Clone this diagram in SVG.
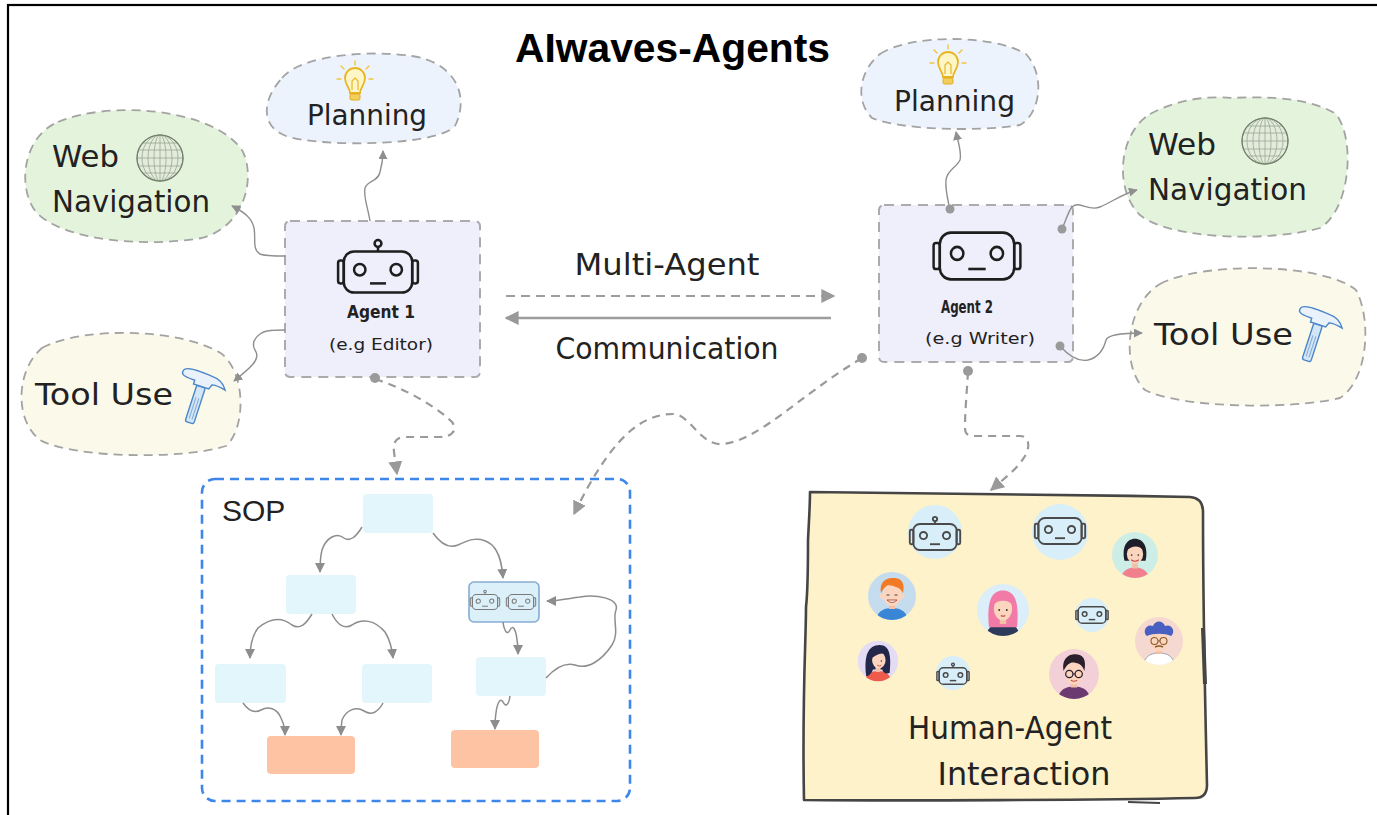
<svg xmlns="http://www.w3.org/2000/svg" xmlns:xlink="http://www.w3.org/1999/xlink" width="1377" height="815" viewBox="0 0 1377 815">
  <style>
    .hand { font-family: "DejaVu Sans", "Liberation Sans", sans-serif; fill: #222; }
    .blob { stroke: #a3a3a3; stroke-width: 1.8; stroke-dasharray: 9 6; }
    .agent { fill: #efeefb; stroke: #ababab; stroke-width: 2; stroke-dasharray: 10 7; }
    .link { fill: none; stroke: #8f8f8f; stroke-width: 1.4; }
    .dlink { fill: none; stroke: #9a9a9a; stroke-width: 2.2; stroke-dasharray: 8 6; }
    .sop { fill: none; stroke: #8d8d8d; stroke-width: 1.5; }
    .dot { fill: #9a9a9a; }
    .step { fill: #e2f6fb; }
    .out { fill: #fdc3a3; }
    .skin { fill: #fcd5bf; }
  </style>
  <defs>
    <marker id="ah" viewBox="0 0 10 10" refX="9" refY="5" markerWidth="9" markerHeight="9" markerUnits="userSpaceOnUse" orient="auto">
      <path d="M0,0 L10,5 L0,10 Z" fill="#8f8f8f"/>
    </marker>
    <marker id="ahd" viewBox="0 0 10 10" refX="9" refY="5" markerWidth="14" markerHeight="14" markerUnits="userSpaceOnUse" orient="auto">
      <path d="M0,0 L10,5 L0,10 Z" fill="#9a9a9a"/>
    </marker>
    <marker id="ahs" viewBox="0 0 10 10" refX="9" refY="5" markerWidth="10" markerHeight="10" markerUnits="userSpaceOnUse" orient="auto">
      <path d="M0,0 L10,5 L0,10 Z" fill="#8d8d8d"/>
    </marker>
    <marker id="ahm" viewBox="0 0 10 10" refX="9" refY="5" markerWidth="14" markerHeight="14" markerUnits="userSpaceOnUse" orient="auto">
      <path d="M0,0 L10,5 L0,10 Z" fill="#999"/>
    </marker>
    <clipPath id="avc"><circle r="24"/></clipPath>

    <!-- robot face outline, centred on 0,0 -->
    <g id="bot">
      <rect x="-30" y="-18" width="60" height="36" rx="9"/>
      <rect x="-35" y="-10" width="5" height="20" rx="2"/>
      <rect x="30" y="-10" width="5" height="20" rx="2"/>
      <circle cx="-16" cy="-2" r="5"/>
      <circle cx="16" cy="-2" r="5"/>
      <line x1="-7" y1="10" x2="7" y2="10"/>
    </g>
    <g id="antenna">
      <circle cx="0" cy="-25" r="3"/>
      <line x1="0" y1="-22" x2="0" y2="-18"/>
    </g>

    <!-- light bulb -->
    <g id="bulb">
      <path d="M-5,9 C-5,4 -10,1 -10,-6 A10,10 0 1 1 10,-6 C10,1 5,4 5,9 Z" fill="#fff6c8" stroke="#e8b625" stroke-width="1.8"/>
      <path d="M-3,6 L-3,-3 L0,-6 L3,-3 L3,6" fill="none" stroke="#e8b625" stroke-width="1.2"/>
      <rect x="-5" y="10" width="10" height="6" rx="1.5" fill="#f2cf5a" stroke="#e0a91e" stroke-width="1"/>
      <g stroke="#f0c640" stroke-width="1.4" stroke-linecap="round">
        <line x1="0" y1="-19" x2="0" y2="-23"/>
        <line x1="-11" y1="-15" x2="-14" y2="-18"/>
        <line x1="11" y1="-15" x2="14" y2="-18"/>
        <line x1="-14" y1="-5" x2="-18" y2="-5"/>
        <line x1="14" y1="-5" x2="18" y2="-5"/>
      </g>
    </g>

    <!-- wireframe globe -->
    <g id="globe">
      <circle r="23" fill="#e3ecdc" stroke="#7f8e77" stroke-width="1.2"/>
      <g fill="none" stroke="#98a68f" stroke-width="0.8">
        <ellipse rx="6" ry="23"/>
        <ellipse rx="12" ry="23"/>
        <ellipse rx="18" ry="23"/>
        <line x1="0" y1="-23" x2="0" y2="23"/>
        <line x1="-17.6" y1="-15" x2="17.6" y2="-15"/>
        <line x1="-21.5" y1="-8" x2="21.5" y2="-8"/>
        <line x1="-23" y1="0" x2="23" y2="0"/>
        <line x1="-21.5" y1="8" x2="21.5" y2="8"/>
        <line x1="-17.6" y1="15" x2="17.6" y2="15"/>
      </g>
      <circle r="23" fill="none" stroke="#6f7e68" stroke-width="1"/>
    </g>

    <!-- hammer -->
    <g id="hammer">
      <g transform="rotate(18)">
        <rect x="-4.5" y="-10" width="9" height="38" rx="2" fill="#d3e6f6" stroke="#4a86c8" stroke-width="1.4"/>
        <g stroke="#7fa9d6" stroke-width="1">
          <line x1="-1.5" y1="2" x2="-1.5" y2="24"/>
          <line x1="1.5" y1="2" x2="1.5" y2="24"/>
        </g>
        <path d="M-20,-22 C-16,-25 -4,-24 8,-23 C14,-23 20,-20 24,-14 C20,-15 15,-16 10,-15 L8,-10 L-8,-10 L-8,-14 C-14,-14 -19,-14 -21,-16 C-23,-18 -22,-21 -20,-22 Z" fill="#e9f2fb" stroke="#4a86c8" stroke-width="1.4"/>
      </g>
    </g>
  </defs>

  <rect width="1377" height="815" fill="#ffffff"/>
  <rect x="8" y="5" width="1390" height="830" fill="none" stroke="#000" stroke-width="2.2"/>

  <g id="title">
    <text x="515" y="62" font-family="Liberation Sans, Arial, sans-serif" font-weight="bold" font-size="40" textLength="315" lengthAdjust="spacingAndGlyphs" fill="#000">AIwaves-Agents</text>
  </g>

  <!-- capability bubbles around Agent 1 -->
  <g id="planning-1">
    <path class="blob" fill="#edf3fc" d="M282,78 C302,54 372,50 412,56 C452,62 470,92 456,124 C446,146 322,148 286,136 C260,126 262,100 282,78 Z"/>
    <use href="#bulb" transform="translate(355,84)"/>
    <text class="hand" x="307" y="125" font-size="28" textLength="120" lengthAdjust="spacingAndGlyphs">Planning</text>
  </g>
  <g id="webnav-1">
    <path class="blob" fill="#e4f4dc" d="M58,122 C110,100 212,108 242,150 C256,176 246,226 202,238 C142,248 62,240 36,212 C16,186 24,136 58,122 Z"/>
    <use href="#globe" transform="translate(160,158)"/>
    <text class="hand" x="52" y="167" font-size="30" textLength="67" lengthAdjust="spacingAndGlyphs">Web</text>
    <text class="hand" x="52" y="212" font-size="30" textLength="158" lengthAdjust="spacingAndGlyphs">Navigation</text>
  </g>
  <g id="tooluse-1">
    <path class="blob" fill="#fbf9ea" d="M42,348 C82,326 182,328 222,354 C246,374 246,428 226,446 C182,460 72,458 40,440 C14,420 16,370 42,348 Z"/>
    <text class="hand" x="35" y="405" font-size="30" textLength="138" lengthAdjust="spacingAndGlyphs">Tool  Use</text>
    <use href="#hammer" transform="translate(198,396)"/>
  </g>

  <!-- capability bubbles around Agent 2 -->
  <g id="planning-2">
    <path class="blob" fill="#edf3fc" d="M880,54 C910,34 992,34 1026,54 C1046,76 1040,114 1020,125 C980,132 900,130 872,118 C854,100 860,70 880,54 Z"/>
    <use href="#bulb" transform="translate(948,68)"/>
    <text class="hand" x="894" y="111" font-size="28" textLength="121" lengthAdjust="spacingAndGlyphs">Planning</text>
  </g>
  <g id="webnav-2">
    <path class="blob" fill="#e4f4dc" d="M1150,114 C1180,98 1210,96 1232,98 C1270,96 1310,98 1336,114 C1356,140 1350,210 1320,228 C1270,242 1170,240 1140,215 C1114,190 1118,134 1150,114 Z"/>
    <use href="#globe" transform="translate(1265,141)"/>
    <text class="hand" x="1148" y="155" font-size="30" textLength="68" lengthAdjust="spacingAndGlyphs">Web</text>
    <text class="hand" x="1148" y="200" font-size="30" textLength="159" lengthAdjust="spacingAndGlyphs">Navigation</text>
  </g>
  <g id="tooluse-2">
    <path class="blob" fill="#fbf9ea" d="M1160,284 C1200,262 1322,262 1356,290 C1372,320 1368,380 1340,398 C1290,410 1180,408 1145,390 C1120,366 1126,304 1160,284 Z"/>
    <text class="hand" x="1154" y="345" font-size="30" textLength="139" lengthAdjust="spacingAndGlyphs">Tool  Use</text>
    <use href="#hammer" transform="translate(1315,334)"/>
  </g>

  <!-- agents -->
  <g id="agent-1">
    <rect class="agent" x="285" y="221" width="195" height="156" rx="5"/>
    <g fill="none" stroke="#1e1e1e" stroke-width="2.2" transform="translate(378,272) scale(1.14)">
      <use href="#bot"/>
      <use href="#antenna"/>
    </g>
    <text class="hand" x="381" y="318" font-size="18" font-weight="bold" text-anchor="middle" textLength="68" lengthAdjust="spacingAndGlyphs" fill="#333">Agent 1</text>
    <text class="hand" x="381" y="350" font-size="16" text-anchor="middle" textLength="104" lengthAdjust="spacingAndGlyphs" fill="#444">(e.g Editor)</text>
  </g>
  <g id="agent-2">
    <rect class="agent" x="879" y="205" width="194" height="157" rx="5"/>
    <g fill="none" stroke="#1e1e1e" stroke-width="2" transform="translate(977,256) scale(1.24,1.3)">
      <use href="#bot"/>
    </g>
    <text class="hand" x="967" y="313" font-size="17" font-weight="bold" text-anchor="middle" textLength="52" lengthAdjust="spacingAndGlyphs" fill="#333">Agent 2</text>
    <text class="hand" x="980" y="344" font-size="15" text-anchor="middle" textLength="110" lengthAdjust="spacingAndGlyphs" fill="#444">(e.g Writer)</text>
  </g>

  <!-- communication between the agents -->
  <g id="communication">
    <text class="hand" x="667" y="275" font-size="30" text-anchor="middle" textLength="185" lengthAdjust="spacingAndGlyphs">Multi-Agent</text>
    <text class="hand" x="667" y="359" font-size="30" text-anchor="middle" textLength="223" lengthAdjust="spacingAndGlyphs">Communication</text>
  </g>

  <!-- SOP workflow -->
  <g id="sop">
    <rect x="202" y="479" width="428" height="322" rx="13" fill="none" stroke="#3e86ea" stroke-width="2.6" stroke-dasharray="9 6"/>
    <text x="222" y="521" font-family="Liberation Sans, Arial, sans-serif" font-size="30" fill="#222">SOP</text>
    <rect class="step" x="363" y="494" width="70" height="39" rx="4"/>
    <rect class="step" x="286" y="575" width="70" height="39" rx="4"/>
    <rect x="469" y="582" width="70" height="40" rx="5" fill="#dcf0fa" stroke="#86acd4" stroke-width="1.6"/>
    <g fill="none" stroke="#7a7a7a" stroke-width="2.4">
      <g transform="translate(485,602) scale(0.42)"><use href="#bot"/><use href="#antenna"/></g>
      <g transform="translate(521,602) scale(0.42)"><use href="#bot"/></g>
    </g>
    <rect class="step" x="215" y="664" width="71" height="39" rx="4"/>
    <rect class="step" x="362" y="664" width="70" height="39" rx="4"/>
    <rect class="step" x="476" y="657" width="70" height="39" rx="4"/>
    <rect class="out" x="267" y="736" width="88" height="38" rx="4"/>
    <rect class="out" x="451" y="730" width="88" height="38" rx="4"/>
    <g id="sop-links">
      <path class="sop" marker-end="url(#ahs)" d="M362,527 C356,537 350,542 344,538 C336,532 326,538 322,550 C320,558 320,565 320,572"/>
      <path class="sop" marker-end="url(#ahs)" d="M433,533 C440,543 448,549 458,545 C468,540 480,535 492,545 C500,553 502,565 503,578"/>
      <path class="sop" marker-end="url(#ahs)" d="M312,614 C306,624 300,630 292,625 C282,617 270,618 258,628 C252,636 250,645 250,658"/>
      <path class="sop" marker-end="url(#ahs)" d="M332,614 C337,624 344,630 352,625 C362,618 375,620 385,632 C390,640 392,648 393,658"/>
      <path class="sop" marker-end="url(#ahs)" d="M243,703 C248,710 254,714 261,710 C268,706 277,708 281,718 C284,724 285,729 285,735"/>
      <path class="sop" marker-end="url(#ahs)" d="M383,703 C378,712 372,716 364,711 C356,706 346,710 342,720 C341,726 341,730 341,735"/>
      <path class="sop" marker-end="url(#ahs)" d="M503,622 C504,630 507,636 510,630 C513,624 516,630 517,640 C518,645 518,649 518,654"/>
      <path class="sop" marker-end="url(#ahs)" d="M510,696 C509,704 506,708 503,702 C500,697 497,704 496,713 C495,719 495,724 495,729"/>
      <path class="sop" marker-end="url(#ahs)" d="M546,678 C555,668 565,662 575,665 C588,670 602,660 612,645 C620,632 612,620 616,610 C620,598 595,594 580,597 C566,599 556,601 547,601"/>
    </g>
  </g>

  <!-- human-agent interaction board -->
  <g id="human-agent">
    <path d="M810,492 C900,494 1050,494 1190,497 Q1203,498 1203,512 C1203,600 1205,700 1207,785 Q1207,798 1195,798 C1100,800 900,801 804,800 C802,700 806,640 806,607 C808,590 808,560 808,540 C809,520 810,505 810,492 Z" fill="#fdf2c9" stroke="#454545" stroke-width="2.6" stroke-linejoin="round"/>
    <path d="M1203,628 L1205,684" stroke="#454545" stroke-width="4" fill="none"/>
    <path d="M1128,802 L1160,803" stroke="#454545" stroke-width="2" fill="none"/>

    <!-- robot avatars -->
    <circle cx="935" cy="532" r="27" fill="#d8eef8"/>
    <g fill="none" stroke="#4a4a4a" stroke-width="2.6" transform="translate(935,537) scale(0.72)"><use href="#bot"/><use href="#antenna"/></g>
    <circle cx="1060" cy="532" r="28" fill="#d8eef8"/>
    <g fill="none" stroke="#4a4a4a" stroke-width="2.6" transform="translate(1060,531) scale(0.72)"><use href="#bot"/></g>
    <circle cx="1092" cy="615" r="17" fill="#d8eef8"/>
    <g fill="none" stroke="#4a4a4a" stroke-width="3.2" transform="translate(1092,615) scale(0.46)"><use href="#bot"/></g>
    <circle cx="953" cy="673" r="17" fill="#d8eef8"/>
    <g fill="none" stroke="#4a4a4a" stroke-width="3.2" transform="translate(953,676) scale(0.46)"><use href="#bot"/><use href="#antenna"/></g>

    <!-- woman, short black hair -->
    <g transform="translate(1135,555) scale(0.96)">
      <circle r="24" fill="#cdeee7"/>
      <g clip-path="url(#avc)">
        <path d="M-15,26 C-14,16 -7,13 0,13 C7,13 14,16 15,26 Z" fill="#f27f8c"/>
        <rect x="-3" y="5" width="6" height="9" fill="#f1c0a6"/>
        <path d="M-11,6 C-14,-8 -9,-17 0,-17 C9,-17 14,-8 11,6 Z" fill="#1f1f2b"/>
        <ellipse class="skin" cx="0" cy="-1" rx="8.5" ry="10"/>
        <path d="M-9,-4 C-9,-14 8,-15 10,-4 C5,-10 -3,-11 -9,-4 Z" fill="#1f1f2b"/>
        <path d="M-4,5 Q0,8 4,5" fill="none" stroke="#c0504d" stroke-width="1.2"/>
        <circle cx="-3.5" cy="0" r="0.9" fill="#333"/><circle cx="3.5" cy="0" r="0.9" fill="#333"/>
      </g>
    </g>
    <!-- boy, orange hair -->
    <g transform="translate(892,596)">
      <circle r="24" fill="#c5dcef"/>
      <g clip-path="url(#avc)">
        <path d="M-17,26 C-15,15 -8,12 0,12 C8,12 15,15 17,26 Z" fill="#3a86d6"/>
        <rect x="-3" y="5" width="6" height="8" fill="#f1c0a6"/>
        <circle cx="-10" cy="0" r="2.5" class="skin"/><circle cx="10" cy="0" r="2.5" class="skin"/>
        <ellipse class="skin" cx="0" cy="-1" rx="9.5" ry="11"/>
        <path d="M-11,-3 C-13,-14 -6,-19 2,-18 C10,-18 13,-12 11,-3 C8,-9 2,-10 -4,-11 C-7,-9 -9,-7 -11,-3 Z" fill="#f27a24"/>
        <path d="M-5,4 Q0,9 5,4 Z" fill="#fff" stroke="#b5533c" stroke-width="1"/>
        <line x1="-5.5" y1="-1" x2="-2.5" y2="-1" stroke="#444" stroke-width="1.2"/>
        <line x1="2.5" y1="-1" x2="5.5" y2="-1" stroke="#444" stroke-width="1.2"/>
      </g>
    </g>
    <!-- girl, pink hair -->
    <g transform="translate(1003,610) scale(1.08)">
      <circle r="24" fill="#dbeef9"/>
      <g clip-path="url(#avc)">
        <path d="M-16,26 C-15,15 -8,12 0,12 C8,12 15,15 16,26 Z" fill="#2d3a5a"/>
        <path d="M-13,16 C-15,-5 -12,-18 0,-18 C12,-18 15,-5 13,16 Z" fill="#f27aa6"/>
        <rect x="-3" y="5" width="6" height="8" fill="#f1c0a6"/>
        <ellipse class="skin" cx="0" cy="-1" rx="8.5" ry="10.5"/>
        <path d="M-10,-4 C-9,-15 9,-15 10,-4 C5,-10 -5,-10 -10,-4 Z" fill="#f27aa6"/>
        <circle cx="-3.5" cy="0" r="0.9" fill="#333"/><circle cx="3.5" cy="0" r="0.9" fill="#333"/>
        <path d="M-2,5 Q0,6.5 2,5" fill="none" stroke="#c0504d" stroke-width="1.1"/>
      </g>
    </g>
    <!-- man, blue curly hair and glasses -->
    <g transform="translate(1159,641)">
      <circle r="24" fill="#f5d8cf"/>
      <g clip-path="url(#avc)">
        <path d="M-16,26 C-15,15 -8,12 0,12 C8,12 15,15 16,26 Z" fill="#ffffff" stroke="#9aa2b8" stroke-width="1"/>
        <rect x="-3" y="5" width="6" height="8" fill="#f1c0a6"/>
        <ellipse class="skin" cx="0" cy="0" rx="9" ry="10.5"/>
        <path d="M-12,-5 C-17,-9 -13,-18 -6,-15 C-4,-21 4,-21 6,-15 C13,-18 17,-9 12,-5 C6,-8 -6,-8 -12,-5 Z" fill="#4a5fc2"/>
        <g fill="none" stroke="#8a5a2a" stroke-width="1.1">
          <circle cx="-4.5" cy="0" r="3.5"/><circle cx="4.5" cy="0" r="3.5"/>
          <line x1="-1" y1="0" x2="1" y2="0"/>
        </g>
        <path d="M-4,6 Q0,4 4,6" fill="none" stroke="#8a5a2a" stroke-width="1.4"/>
      </g>
    </g>
    <!-- woman, dark long hair -->
    <g transform="translate(878,661) scale(0.84)">
      <circle r="24" fill="#e4dcf5"/>
      <g clip-path="url(#avc)">
        <path d="M-16,26 C-15,15 -8,12 0,12 C8,12 15,15 16,26 Z" fill="#ef5b4b"/>
        <path d="M-14,18 C-17,-6 -12,-19 2,-19 C14,-19 16,-6 14,14 C10,16 6,14 5,10 L-6,10 C-8,16 -12,18 -14,18 Z" fill="#23284a"/>
        <rect x="-3" y="5" width="6" height="8" fill="#f1c0a6"/>
        <ellipse class="skin" cx="1" cy="-1" rx="8" ry="10"/>
        <path d="M-9,-2 C-9,-14 6,-17 11,-6 C6,-12 -2,-8 -9,-2 Z" fill="#23284a"/>
        <circle cx="4" cy="0" r="0.9" fill="#333"/>
        <path d="M-1,5 Q2,7 4,5" fill="none" stroke="#c0504d" stroke-width="1.1"/>
      </g>
    </g>
    <!-- man, dark hair and glasses -->
    <g transform="translate(1074,674) scale(1.04)">
      <circle r="24" fill="#f3cfd8"/>
      <g clip-path="url(#avc)">
        <path d="M-16,26 C-15,15 -8,12 0,12 C8,12 15,15 16,26 Z" fill="#6b3a70"/>
        <rect x="-3" y="5" width="6" height="8" fill="#f1c0a6"/>
        <ellipse class="skin" cx="0" cy="-1" rx="9" ry="11"/>
        <path d="M-10,-3 C-12,-15 -5,-19 1,-19 C9,-19 12,-14 10,-3 C8,-9 4,-11 -2,-11 C-6,-10 -8,-7 -10,-3 Z" fill="#2a1f2c"/>
        <g fill="none" stroke="#2a1f2c" stroke-width="1.2">
          <circle cx="-4.5" cy="0" r="3.5"/><circle cx="4.5" cy="0" r="3.5"/>
          <line x1="-1" y1="0" x2="1" y2="0"/>
        </g>
        <path d="M-3,6 Q0,8 3,6" fill="none" stroke="#c0504d" stroke-width="1.1"/>
      </g>
    </g>

    <text class="hand" x="1010" y="739" font-size="32" text-anchor="middle" textLength="204" lengthAdjust="spacingAndGlyphs">Human-Agent</text>
    <text class="hand" x="1024" y="785" font-size="32" text-anchor="middle" textLength="173" lengthAdjust="spacingAndGlyphs">Interaction</text>
  </g>

  <!-- connectors -->
  <g id="connectors">
    <!-- Agent 1 to its capabilities -->
    <path class="link" marker-end="url(#ah)" d="M285,256 C275,256 265,256 260,254 C252,250 256,238 254,228 C252,218 244,212 232,206"/>
    <path class="link" marker-end="url(#ah)" d="M370,221 C368,208 363,196 365,188 C368,180 378,182 380,172 C382,165 383,158 383,151"/>
    <path class="link" marker-end="url(#ah)" d="M285,330 C275,330 265,330 260,334 C252,340 252,346 256,352 C260,360 250,368 234,381"/>
    <!-- Agent 2 to its capabilities -->
    <path class="link" marker-end="url(#ah)" d="M950,210 C948,200 945,190 946,180 C947,170 956,168 960,160 C962,152 958,142 956,132"/>
    <path class="link" marker-end="url(#ah)" d="M1062,229 C1066,220 1068,212 1072,207 C1080,200 1088,212 1100,207 C1110,203 1122,194 1137,190"/>
    <path class="link" marker-end="url(#ah)" d="M1060,346 C1068,355 1078,362 1088,360 C1100,357 1104,348 1106,340 C1108,334 1125,333 1142,333"/>
    <!-- multi-agent communication -->
    <line x1="506" y1="296" x2="834" y2="296" stroke="#9d9d9d" stroke-width="2" stroke-dasharray="9 6" marker-end="url(#ahm)"/>
    <line x1="831" y1="318" x2="506" y2="318" stroke="#9d9d9d" stroke-width="2.4" marker-end="url(#ahm)"/>
    <!-- agents to SOP and human interaction -->
    <path class="dlink" marker-end="url(#ahd)" d="M375,379 C410,390 440,410 452,422 C458,430 452,437 440,437 L405,437 C396,437 393,442 394,452 L397,474"/>
    <path class="dlink" marker-end="url(#ahd)" d="M862,358 C800,395 760,440 723,444 C700,446 690,414 673,414 C640,414 610,440 574,514"/>
    <path class="dlink" marker-end="url(#ahd)" d="M968,372 C967,390 965,410 965,428 C965,434 968,436 975,436 L1020,436 C1030,436 1030,448 1025,456 C1018,468 1005,478 991,490"/>
    <circle class="dot" cx="375" cy="378" r="5"/>
    <circle class="dot" cx="950" cy="209" r="4.5"/>
    <circle class="dot" cx="1062" cy="229" r="4.5"/>
    <circle class="dot" cx="1060" cy="346" r="4.5"/>
    <circle class="dot" cx="862" cy="358" r="5"/>
    <circle class="dot" cx="968" cy="371" r="5"/>
  </g>
</svg>
